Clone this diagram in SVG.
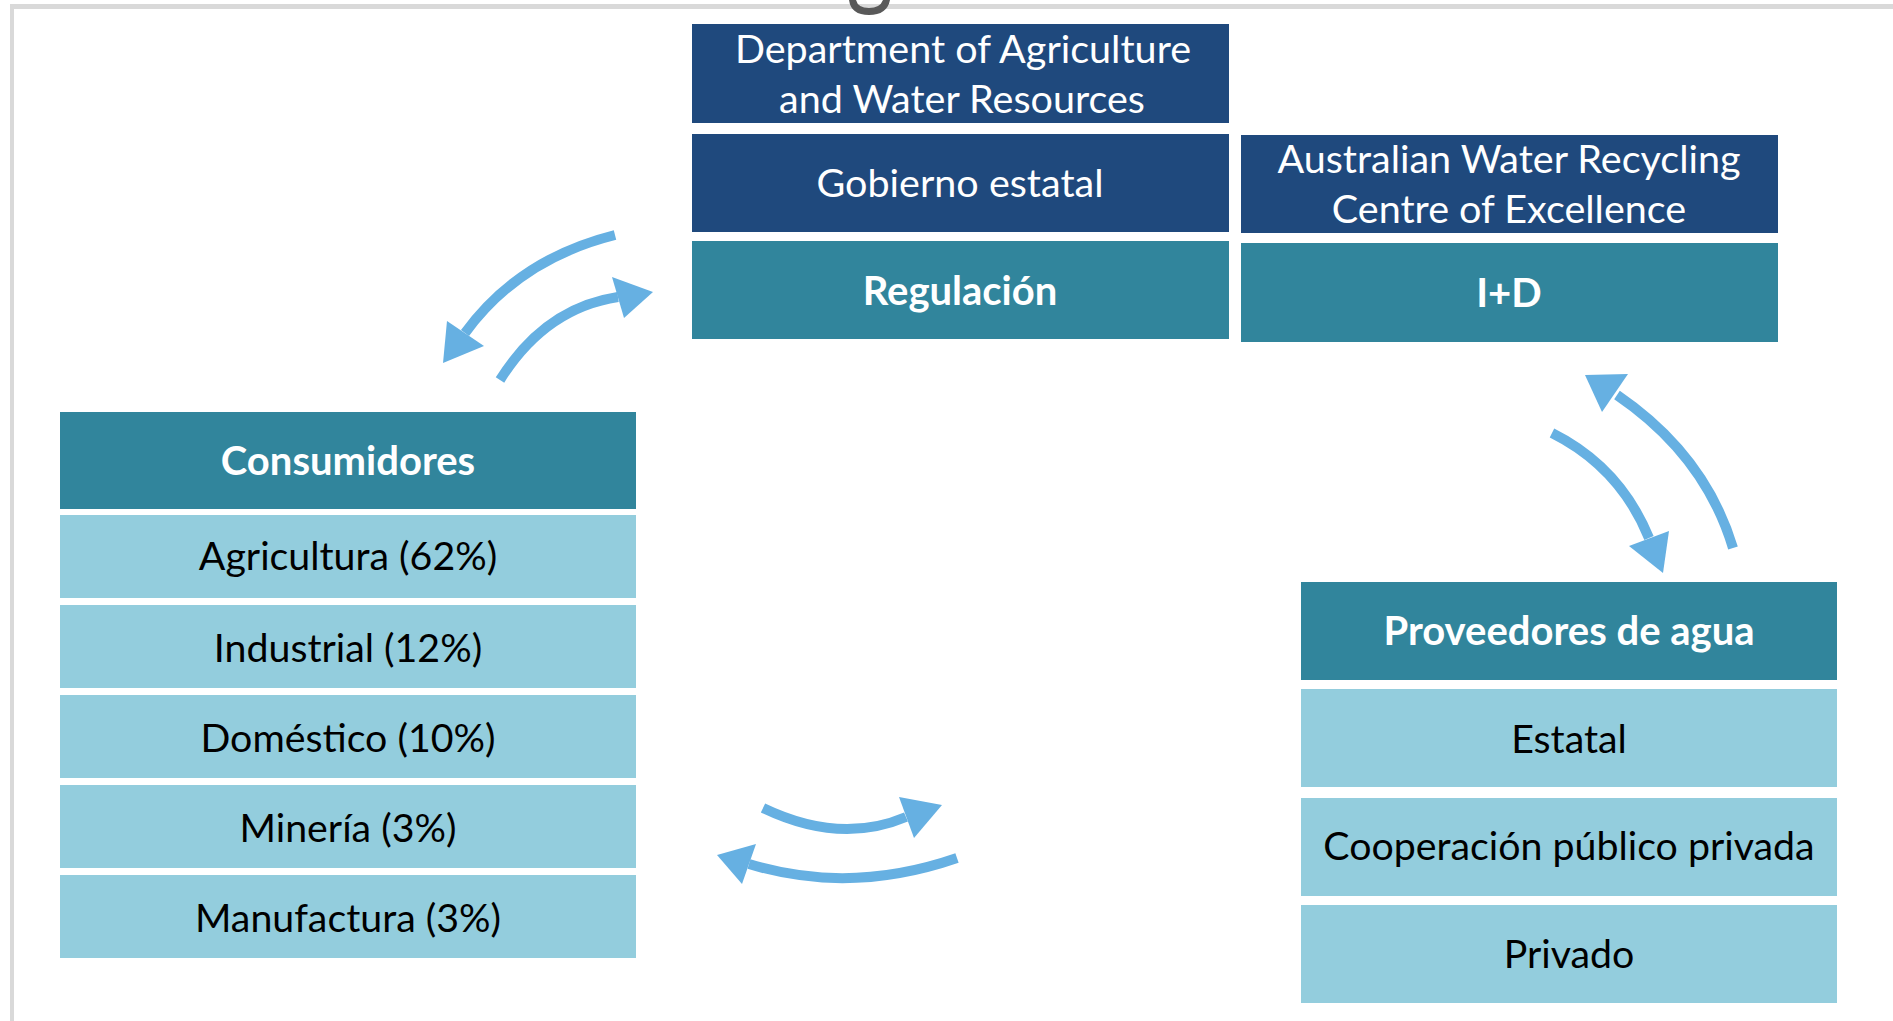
<svg xmlns="http://www.w3.org/2000/svg" width="1893" height="1021" viewBox="0 0 1893 1021">
<style>
.dark{fill:#1f497d}
.teal{fill:#31859c}
.light{fill:#93cddd}
.t{font-family:Lato,"Liberation Sans",sans-serif;text-anchor:middle}
.w{fill:#ffffff;font-size:39.5px}
.wb{fill:#ffffff;font-size:40px;font-weight:bold}
.k{fill:#000000;font-size:39.3px}
.shaft{fill:none;stroke:#66b0e2;stroke-width:10;stroke-linecap:butt}
.head{fill:#66b0e2}
</style>
<rect x="0" y="0" width="1893" height="1021" fill="#ffffff"/>
<rect x="10" y="4" width="1883" height="5" fill="#d9d9d9"/>
<rect x="10" y="4" width="4" height="1017" fill="#d9d9d9"/>
<path d="M849 0 Q851 15 869 15 Q887 15 890 0 L883 0 Q880 8 869 8 Q858 8 856 0 Z" fill="#595959"/>

<g id="dept">
<rect class="dark" x="692" y="24" width="537" height="99"/>
<text class="t w" x="963" y="63">Department of Agriculture</text>
<text class="t w" x="962" y="113">and Water Resources</text>
</g>
<g id="gobierno">
<rect class="dark" x="692" y="134" width="537" height="98"/>
<text class="t w" x="960" y="197">Gobierno estatal</text>
</g>
<g id="regulacion">
<rect class="teal" x="692" y="241" width="537" height="98"/>
<text class="t wb" x="960" y="305">Regulación</text>
</g>
<g id="awrce">
<rect class="dark" x="1241" y="135" width="537" height="98"/>
<text class="t w" x="1509" y="173">Australian Water Recycling</text>
<text class="t w" x="1509" y="223">Centre of Excellence</text>
</g>
<g id="id">
<rect class="teal" x="1241" y="243" width="537" height="99"/>
<text class="t wb" x="1509" y="307">I+D</text>
</g>

<g id="consumidores">
<rect class="teal" x="60" y="412" width="576" height="97"/>
<text class="t wb" x="348" y="475">Consumidores</text>
</g>
<g id="agricultura">
<rect class="light" x="60" y="515" width="576" height="83"/>
<text class="t k" x="348" y="570">Agricultura (62%)</text>
</g>
<g id="industrial">
<rect class="light" x="60" y="605" width="576" height="83"/>
<text class="t k" x="348" y="662">Industrial (12%)</text>
</g>
<g id="domestico">
<rect class="light" x="60" y="695" width="576" height="83"/>
<text class="t k" x="348" y="752">Doméstico (10%)</text>
</g>
<g id="mineria">
<rect class="light" x="60" y="785" width="576" height="83"/>
<text class="t k" x="348" y="842">Minería (3%)</text>
</g>
<g id="manufactura">
<rect class="light" x="60" y="875" width="576" height="83"/>
<text class="t k" x="348" y="932">Manufactura (3%)</text>
</g>

<g id="proveedores">
<rect class="teal" x="1301" y="582" width="536" height="98"/>
<text class="t wb" x="1569" y="645">Proveedores de agua</text>
</g>
<g id="estatal">
<rect class="light" x="1301" y="689" width="536" height="98"/>
<text class="t k" x="1569" y="753">Estatal</text>
</g>
<g id="cooperacion">
<rect class="light" x="1301" y="798" width="536" height="98"/>
<text class="t k" x="1569" y="860">Cooperación público privada</text>
</g>
<g id="privado">
<rect class="light" x="1301" y="905" width="536" height="98"/>
<text class="t k" x="1569" y="968">Privado</text>
</g>

<g id="connectors">
<path class="shaft" d="M615 235 Q519 259 465 333"/>
<polygon class="head" points="443,363 447,321 484,346"/>
<path class="shaft" d="M500 380 Q545 308 618 297"/>
<polygon class="head" points="653,292 612,277 624,318"/>
<path class="shaft" d="M1552 433 Q1620 467 1649 538"/>
<polygon class="head" points="1663,573 1629,546 1669,531"/>
<path class="shaft" d="M1733 548 Q1705 455 1617 395"/>
<polygon class="head" points="1585,375 1628,374 1602,412"/>
<path class="shaft" d="M763 808 Q840 845 906 817"/>
<polygon class="head" points="942,805 899,797 914,838"/>
<path class="shaft" d="M957 858 Q850 895 749 864"/>
<polygon class="head" points="717,855 742,884 756,844"/>
</g>
</svg>
